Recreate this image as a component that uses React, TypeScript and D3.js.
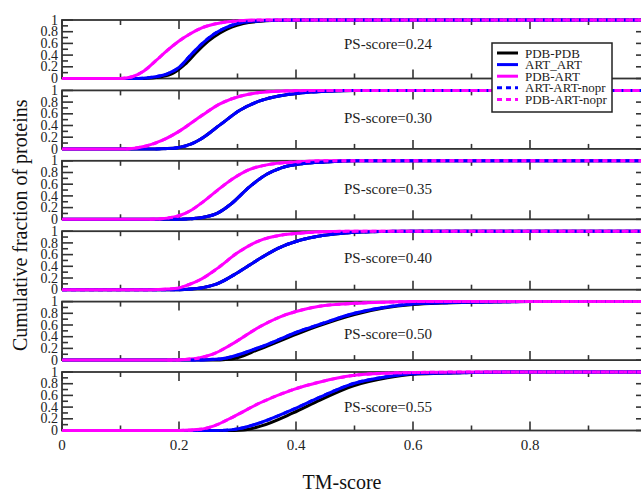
import React from "react";
import * as d3 from "d3";

type Pt = [number, number];

// TM-score vs cumulative fraction, one set per PS-score panel
const psScores = ["0.24", "0.30", "0.35", "0.40", "0.50", "0.55"];

const p1Black: Pt[] = [[0,0],[0.14,0],[0.17,0.03],[0.19,0.09],[0.21,0.24],[0.23,0.45],[0.25,0.64],[0.27,0.78],[0.29,0.88],[0.31,0.94],[0.34,0.98],[0.38,0.997],[0.43,1],[1,1]];
const p1Blue: Pt[] = [[0,0],[0.13,0],[0.16,0.03],[0.18,0.08],[0.2,0.19],[0.22,0.4],[0.24,0.6],[0.26,0.76],[0.28,0.87],[0.3,0.94],[0.33,0.98],[0.37,0.997],[0.42,1],[1,1]];
const p1Magenta: Pt[] = [[0,0],[0.1,0],[0.12,0.03],[0.14,0.13],[0.16,0.3],[0.18,0.48],[0.2,0.64],[0.22,0.77],[0.24,0.87],[0.27,0.95],[0.3,0.985],[0.35,1],[1,1]];

const p2Blue: Pt[] = [[0,0],[0.16,0],[0.18,0.005],[0.2,0.025],[0.22,0.08],[0.236,0.16],[0.27,0.41],[0.304,0.66],[0.338,0.82],[0.373,0.91],[0.407,0.955],[0.45,0.985],[0.5,1],[1,1]];
const p2Black: Pt[] = p2Blue;
const p2Magenta: Pt[] = [[0,0],[0.11,0],[0.14,0.04],[0.17,0.14],[0.2,0.3],[0.236,0.55],[0.27,0.77],[0.304,0.9],[0.338,0.965],[0.38,0.99],[0.43,1],[1,1]];

const p3Blue: Pt[] = [[0,0],[0.19,0],[0.22,0.01],[0.24,0.03],[0.265,0.1],[0.29,0.27],[0.32,0.55],[0.35,0.77],[0.375,0.88],[0.41,0.95],[0.45,0.98],[0.5,1],[1,1]];
const p3Black: Pt[] = p3Blue;
const p3Magenta: Pt[] = [[0,0],[0.15,0],[0.18,0.02],[0.2,0.06],[0.22,0.15],[0.24,0.29],[0.265,0.49],[0.29,0.68],[0.32,0.85],[0.35,0.93],[0.4,0.98],[0.45,1],[1,1]];

const p4Blue: Pt[] = [[0,0],[0.2,0],[0.22,0.01],[0.24,0.035],[0.265,0.1],[0.3,0.29],[0.333,0.5],[0.37,0.71],[0.405,0.84],[0.445,0.925],[0.49,0.975],[0.55,0.995],[0.6,1],[1,1]];
const p4Black: Pt[] = p4Blue;
const p4Magenta: Pt[] = [[0,0],[0.15,0],[0.18,0.01],[0.2,0.03],[0.215,0.08],[0.236,0.17],[0.265,0.36],[0.3,0.63],[0.338,0.84],[0.373,0.93],[0.41,0.97],[0.46,0.995],[0.5,1],[1,1]];

const p5Black: Pt[] = [[0,0],[0.25,0],[0.29,0.02],[0.338,0.19],[0.41,0.48],[0.44,0.59],[0.5,0.78],[0.55,0.89],[0.6,0.95],[0.7,0.99],[0.8,1],[1,1]];
const p5Blue: Pt[] = [[0,0],[0.22,0],[0.27,0.02],[0.338,0.22],[0.41,0.51],[0.44,0.61],[0.5,0.8],[0.55,0.9],[0.6,0.96],[0.7,0.99],[0.8,1],[1,1]];
const p5Magenta: Pt[] = [[0,0],[0.18,0],[0.21,0.01],[0.236,0.04],[0.26,0.11],[0.29,0.27],[0.338,0.57],[0.373,0.74],[0.4,0.83],[0.44,0.92],[0.5,0.97],[0.55,0.99],[0.6,1],[1,1]];

const p6Black: Pt[] = [[0,0],[0.28,0],[0.31,0.01],[0.338,0.07],[0.395,0.3],[0.441,0.52],[0.497,0.76],[0.556,0.9],[0.6,0.96],[0.7,0.99],[0.8,1],[1,1]];
const p6Blue: Pt[] = [[0,0],[0.26,0],[0.292,0.015],[0.338,0.13],[0.395,0.36],[0.441,0.57],[0.497,0.8],[0.556,0.92],[0.6,0.97],[0.7,0.99],[0.8,1],[1,1]];
const p6Magenta: Pt[] = [[0,0],[0.2,0],[0.236,0.02],[0.26,0.08],[0.292,0.23],[0.338,0.47],[0.395,0.7],[0.441,0.83],[0.497,0.94],[0.556,0.98],[0.6,0.99],[0.7,1],[1,1]];

// x where the "nopr" curves begin in each panel
const noprFrom = [0.1, 0.11, 0.15, 0, 0.18, 0.2];

const seriesNames = ["PDB-PDB", "ART_ART", "PDB-ART", "ART-ART-nopr", "PDB-ART-nopr"];
const seriesColors = ["#000000", "#0000ff", "#ff00ff", "#0000ff", "#ff00ff"];
const seriesDashed = [false, false, false, true, true];

const xTickLabels = ["0", "0.2", "0.4", "0.6", "0.8"];
const yTickLabels = ["0", "0.2", "0.4", "0.6", "0.8", "1"];
const labelY = [0.59, 0.53, 0.53, 0.55, 0.45, 0.4];

const panelsData: Pt[][][] = [
  [p1Black, p1Blue, p1Magenta],
  [p2Black, p2Blue, p2Magenta],
  [p3Black, p3Blue, p3Magenta],
  [p4Black, p4Blue, p4Magenta],
  [p5Black, p5Blue, p5Magenta],
  [p6Black, p6Blue, p6Magenta],
];

const W = 641, H = 495;
const left = 62, right = 647;
const top0 = 20, step = 70.4, ph = 58.5;
const FONT = "'Liberation Serif', 'Times New Roman', 'DejaVu Serif', serif";
const frameCol = "#333";
const tf = { fontFamily: FONT };

export default function App() {
  const x = d3.scaleLinear().domain([0, 1]).range([left, right]);
  const xMajor = d3.range(0, 1.0001, 0.2);
  const xMinor = d3.range(0.1, 1, 0.2);
  const yMajor = d3.range(0, 1.0001, 0.2);
  const yMinor = d3.range(0.1, 1, 0.2);

  return (
    <svg width={W} height={H} style={{ position: "fixed", left: 0, top: 0, background: "#fff" }}>
      <defs>
        {psScores.map((_, i) => {
          const t = top0 + i * step;
          return (
            <clipPath id={`clip${i}`} key={i}>
              <rect x={left} y={t - 3} width={right - left} height={ph + 6} />
            </clipPath>
          );
        })}
      </defs>
      {psScores.map((ps, i) => {
        const t = top0 + i * step;
        const y = d3.scaleLinear().domain([0, 1]).range([t + ph, t]);
        const line = d3.line<Pt>().x(d => x(d[0])).y(d => y(d[1])).curve(d3.curveMonotoneX);
        const [blk, blu, mag] = panelsData[i];
        const nf = noprFrom[i];
        const series: Pt[][] = [blk, blu, mag, blu.filter(p => p[0] >= nf), mag.filter(p => p[0] >= nf)];
        return (
          <g key={i}>
            <rect x={left} y={t} width={right - left} height={ph} fill="none" stroke={frameCol} strokeWidth={1.8} />
            {xMajor.map((v, k) => (
              <g key={"xm" + k}>
                <line x1={x(v)} x2={x(v)} y1={t} y2={t + 9} stroke={frameCol} strokeWidth={1.6} />
                <line x1={x(v)} x2={x(v)} y1={t + ph} y2={t + ph - 9} stroke={frameCol} strokeWidth={1.6} />
              </g>
            ))}
            {xMinor.map((v, k) => (
              <g key={"xn" + k}>
                <line x1={x(v)} x2={x(v)} y1={t} y2={t + 5} stroke={frameCol} strokeWidth={1.6} />
                <line x1={x(v)} x2={x(v)} y1={t + ph} y2={t + ph - 5} stroke={frameCol} strokeWidth={1.6} />
              </g>
            ))}
            {yMajor.map((v, k) => (
              <g key={"ym" + k}>
                <line x1={left} x2={left + 11} y1={y(v)} y2={y(v)} stroke={frameCol} strokeWidth={1.6} />
                <line x1={right} x2={right - 11} y1={y(v)} y2={y(v)} stroke={frameCol} strokeWidth={1.6} />
              </g>
            ))}
            {yMinor.map((v, k) => (
              <g key={"yn" + k}>
                <line x1={left} x2={left + 6} y1={y(v)} y2={y(v)} stroke={frameCol} strokeWidth={1.6} />
                <line x1={right} x2={right - 6} y1={y(v)} y2={y(v)} stroke={frameCol} strokeWidth={1.6} />
              </g>
            ))}
            {yTickLabels.map((lab, k) => (
              <text key={"yl" + k} x={left - 4} y={y(+lab)} dy="0.33em" textAnchor="end" fontSize={14} fill="#222" style={tf}>
                {lab}
              </text>
            ))}
            <g clipPath={`url(#clip${i})`}>
              {series.map((s, k) => (
                <path
                  key={k}
                  d={line(s) || ""}
                  fill="none"
                  stroke={seriesColors[k]}
                  strokeWidth={3}
                  strokeDasharray={seriesDashed[k] ? "5,4" : undefined}
                />
              ))}
            </g>
            <text x={x(0.482)} y={y(labelY[i])} dy="0.35em" fontSize={15} fill="#222" style={tf}>
              {`PS-score=${ps}`}
            </text>
          </g>
        );
      })}
      {xTickLabels.map((lab, k) => (
        <text key={"xl" + k} x={x(+lab)} y={450} textAnchor="middle" fontSize={15} fill="#222" style={tf}>
          {lab}
        </text>
      ))}
      <text x={342} y={489} textAnchor="middle" fontSize={20} fill="#111" style={tf}>TM-score</text>
      <text
        transform={`translate(27,${top0 + (5 * step + ph) / 2}) rotate(-90)`}
        textAnchor="middle"
        fontSize={20}
        fill="#111"
        style={tf}
      >
        Cumulative fraction of proteins
      </text>
      <g>
        <rect x={492} y={43} width={120} height={69} fill="#fff" stroke="#222" strokeWidth={1.5} />
        {seriesNames.map((nm, k) => {
          const ry = 53 + k * 11.6;
          return (
            <g key={nm}>
              <line
                x1={497}
                x2={518}
                y1={ry}
                y2={ry}
                stroke={seriesColors[k]}
                strokeWidth={3}
                strokeDasharray={seriesDashed[k] ? "5,4" : undefined}
              />
              <text x={525} y={ry} dy="0.35em" fontSize={13} fill="#222" style={tf}>{nm}</text>
            </g>
          );
        })}
      </g>
    </svg>
  );
}
